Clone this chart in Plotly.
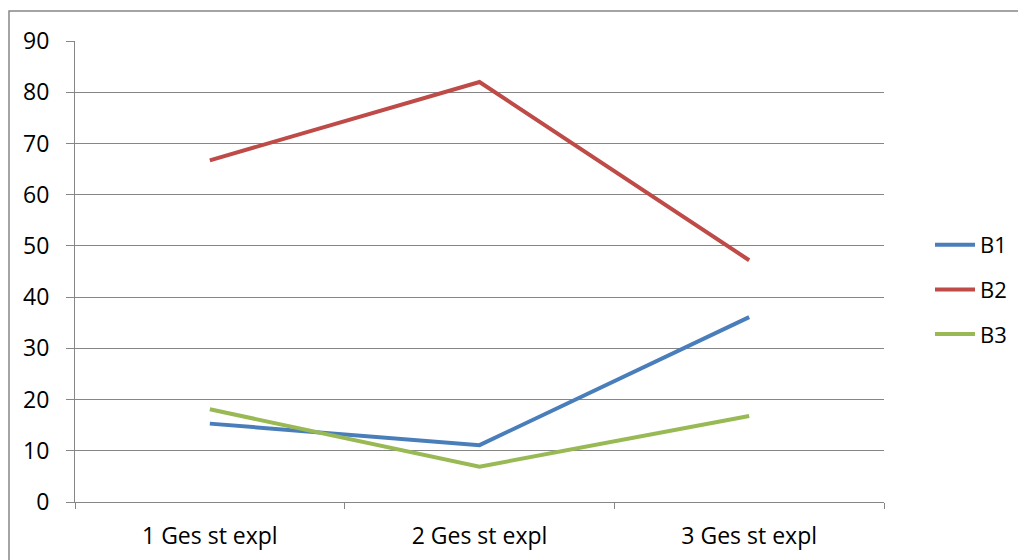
import plotly.graph_objects as go

categories = ["1 Ges st expl", "2 Ges st expl", "3 Ges st expl"]
b1 = [15.3, 11.1, 36.1]
b2 = [66.7, 82.0, 47.2]
b3 = [18.1, 6.9, 16.8]
series_names = ["B1", "B2", "B3"]
colors = ["#4A7EBB", "#BE4B48", "#98B954"]
y_ticks = [0, 10, 20, 30, 40, 50, 60, 70, 80, 90]

fig = go.Figure()
for i, (name, vals) in enumerate(zip(series_names, [b1, b2, b3])):
    fig.add_trace(go.Scatter(
        x=categories, y=vals, name=name, mode="lines",
        line=dict(color=colors[i], width=4),
        legendgroup=name,
    ))

# page has an 8px body margin; work in page pixels and convert
OFF = 8
W, H = 1026 - OFF, 560 - OFF
PL, PR, PT, PB = 75, 884, 41, 502  # plot area in page pixels
L, T = PL - OFF, PT - OFF
R, B = W - (PR - OFF), H - (PB - OFF)
pw, ph = PR - PL, PB - PT

def px2paper_x(px):
    return (px - PL) / pw

def px2paper_y(py):
    return (PB - py) / ph

fig.update_layout(
    width=W, height=H,
    margin=dict(l=L, r=R, t=T, b=B, autoexpand=False),
    paper_bgcolor="white", plot_bgcolor="white",
    font=dict(family="Open Sans, sans-serif", size=23, color="#000000"),
    showlegend=True,
    legend=dict(
        x=px2paper_x(930), y=px2paper_y(224), xanchor="left", yanchor="top",
        font=dict(size=22), tracegroupgap=13, bgcolor="rgba(0,0,0,0)",
        itemwidth=40,
    ),
    xaxis=dict(
        type="category", tickson="boundaries", ticks="outside", ticklen=6,
        range=[-0.5, 2.5], automargin=False,
        tickcolor="#868686", showgrid=False, showline=True, linecolor="#868686",
        linewidth=1, zeroline=False, tickfont=dict(size=23), ticklabelstandoff=13,
    ),
    yaxis=dict(
        range=[0, 90], tickvals=y_ticks, ticks="outside", ticklen=8,
        automargin=False,
        tickcolor="#868686", showgrid=True, gridcolor="#868686", gridwidth=1,
        showline=True, linecolor="#868686", linewidth=1, zeroline=False,
        tickfont=dict(size=23), ticklabelstandoff=12,
    ),
    shapes=[dict(
        type="rect", xref="paper", yref="paper",
        x0=px2paper_x(9), x1=px2paper_x(1040),
        y0=px2paper_y(580), y1=px2paper_y(11),
        line=dict(color="#868686", width=1.5), fillcolor="rgba(0,0,0,0)",
        layer="above",
    )],
)

fig.write_html("out.html")
